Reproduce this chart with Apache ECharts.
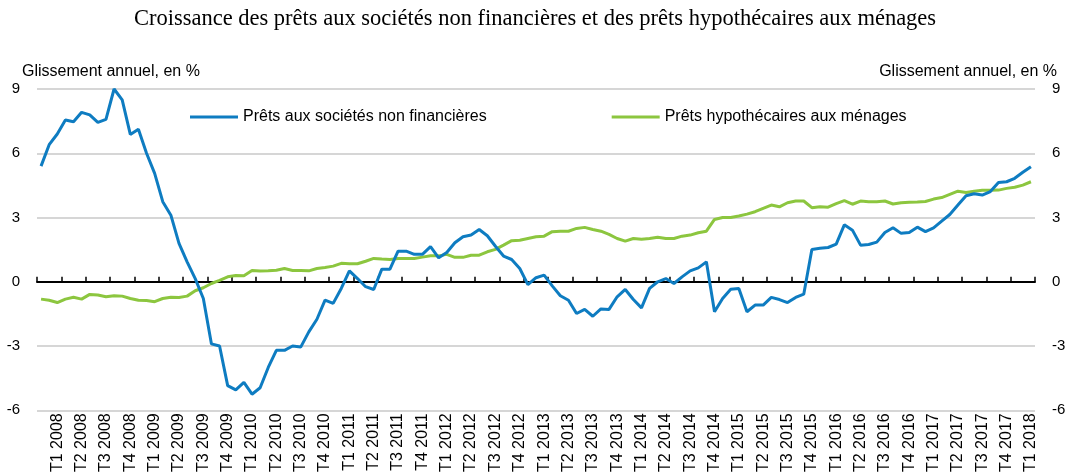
<!DOCTYPE html>
<html>
<head>
<meta charset="utf-8">
<script src="https://cdn.jsdelivr.net/npm/echarts@6/dist/echarts.min.js"></script>
<style>
html,body{margin:0;padding:0;background:#fff;}
#chart{width:1070px;height:475px;}
</style>
</head>
<body>
<div id="chart"></div>
<script>
var titleText = 'Croissance des prêts aux sociétés non financières et des prêts hypothécaires aux ménages';
var axisNameText = 'Glissement annuel, en %';
var seriesNames = ['Prêts aux sociétés non financières', 'Prêts hypothécaires aux ménages'];

var quarterLabels = [
  'T1 2008','T2 2008','T3 2008','T4 2008',
  'T1 2009','T2 2009','T3 2009','T4 2009',
  'T1 2010','T2 2010','T3 2010','T4 2010',
  'T1 2011','T2 2011','T3 2011','T4 2011',
  'T1 2012','T2 2012','T3 2012','T4 2012',
  'T1 2013','T2 2013','T3 2013','T4 2013',
  'T1 2014','T2 2014','T3 2014','T4 2014',
  'T1 2015','T2 2015','T3 2015','T4 2015',
  'T1 2016','T2 2016','T3 2016','T4 2016',
  'T1 2017','T2 2017','T3 2017','T4 2017',
  'T1 2018'
];

var yTicks = [-6, -3, 0, 3, 6, 9];

// Monthly values, Jan 2008 - Mar 2018
var nfcLoans = [
  5.40, 6.40, 6.90, 7.55, 7.47, 7.91, 7.79, 7.44, 7.58, 9.00, 8.49, 6.88,
  7.12, 6.00, 5.06, 3.74, 3.11, 1.79, 0.93, 0.15, -0.78, -2.90, -3.00, -4.85,
  -5.05, -4.70, -5.25, -4.95, -4.00, -3.20, -3.20, -3.00, -3.05, -2.34, -1.75, -0.86,
  -1.01, -0.31, 0.51, 0.15, -0.23, -0.36, 0.59, 0.59, 1.43, 1.43, 1.28, 1.28,
  1.64, 1.12, 1.37, 1.82, 2.10, 2.18, 2.44, 2.15, 1.66, 1.20, 1.04, 0.62,
  -0.13, 0.19, 0.31, -0.19, -0.65, -0.86, -1.48, -1.29, -1.61, -1.27, -1.29, -0.70,
  -0.36, -0.83, -1.22, -0.31, 0.00, 0.15, -0.08, 0.23, 0.51, 0.65, 0.93, -1.40,
  -0.78, -0.35, -0.31, -1.40, -1.09, -1.09, -0.73, -0.83, -0.97, -0.73, -0.58, 1.51,
  1.56, 1.60, 1.76, 2.66, 2.41, 1.71, 1.74, 1.85, 2.30, 2.52, 2.26, 2.30,
  2.55, 2.34, 2.52, 2.83, 3.14, 3.58, 4.02, 4.11, 4.05, 4.21, 4.63, 4.67,
  4.83, 5.11, 5.37
];

var mortgageLoans = [
  -0.81, -0.86, -0.97, -0.81, -0.72, -0.81, -0.59, -0.62, -0.70, -0.65, -0.67, -0.78,
  -0.86, -0.87, -0.93, -0.78, -0.72, -0.73, -0.67, -0.42, -0.28, -0.08, 0.07, 0.23,
  0.29, 0.28, 0.53, 0.50, 0.51, 0.54, 0.62, 0.53, 0.53, 0.51, 0.62, 0.67,
  0.73, 0.86, 0.84, 0.84, 0.96, 1.09, 1.06, 1.04, 1.09, 1.09, 1.09, 1.15,
  1.21, 1.21, 1.28, 1.14, 1.14, 1.24, 1.24, 1.40, 1.51, 1.71, 1.92, 1.94,
  2.02, 2.10, 2.13, 2.34, 2.36, 2.36, 2.49, 2.54, 2.44, 2.36, 2.21, 2.02,
  1.90, 2.02, 1.98, 2.02, 2.08, 2.02, 2.02, 2.13, 2.18, 2.29, 2.36, 2.91,
  3.00, 3.00, 3.07, 3.16, 3.27, 3.43, 3.58, 3.50, 3.69, 3.77, 3.77, 3.46,
  3.50, 3.48, 3.65, 3.79, 3.62, 3.77, 3.74, 3.74, 3.77, 3.63, 3.69, 3.71,
  3.72, 3.75, 3.86, 3.93, 4.08, 4.23, 4.17, 4.23, 4.27, 4.27, 4.28, 4.36,
  4.41, 4.51, 4.67
];

// monthly categories: three months per quarter label
var monthCats = [];
quarterLabels.forEach(function (q) {
  for (var m = 1; m <= 3; m++) monthCats.push(q + '#' + m);
});

var FONT = '"Liberation Sans", Arial, sans-serif';
var chart = echarts.init(document.getElementById('chart'), null, {renderer: 'canvas'});

var yBase = {
  type: 'value',
  min: yTicks[0],
  max: yTicks[yTicks.length - 1],
  interval: 3,
  axisLine: {show: false},
  axisTick: {show: false},
  axisLabel: {color: '#000', fontSize: 15, fontFamily: FONT, margin: 17}
};

chart.setOption({
  animation: false,
  backgroundColor: '#fff',
  textStyle: {fontFamily: FONT},
  title: [
    {text: titleText, left: 'center', top: 3,
     textStyle: {fontFamily: '"Liberation Serif", "Times New Roman", serif', fontSize: 22.5, fontWeight: 'normal', color: '#000'}},
    {text: axisNameText, left: 17, top: 59,
     textStyle: {fontFamily: FONT, fontSize: 16, fontWeight: 'normal', color: '#000'}},
    {text: axisNameText, right: 8, top: 59,
     textStyle: {fontFamily: FONT, fontSize: 16, fontWeight: 'normal', color: '#000'}}
  ],
  legend: {
    left: 185, top: 104,
    itemWidth: 48, itemHeight: 3, itemGap: 125,
    icon: 'rect',
    textStyle: {fontFamily: FONT, fontSize: 16, color: '#000'},
    data: seriesNames
  },
  grid: {left: 37, right: 35, top: 89, bottom: 64, containLabel: false},
  xAxis: [
    {
      type: 'category', data: monthCats, boundaryGap: true, position: 'bottom',
      axisLine: {show: true, onZero: true, onZeroAxisIndex: 0, lineStyle: {color: '#000', width: 2}},
      axisTick: {show: true, inside: true, length: 5, lineStyle: {color: '#000', width: 1.5},
                 interval: function (i) { return i % 3 === 0; }},
      axisLabel: {show: false},
      splitLine: {show: false}
    },
    {
      type: 'category', data: monthCats, boundaryGap: true, position: 'bottom',
      axisLine: {show: false, onZero: false},
      axisTick: {show: false},
      splitLine: {show: false},
      axisLabel: {
        show: true, rotate: 90, margin: 3, fontSize: 16, fontFamily: FONT, color: '#000',
        interval: function (i) { return i % 3 === 2; },
        formatter: function (v) { return String(v).split('#')[0]; }
      }
    }
  ],
  yAxis: [
    Object.assign({}, yBase, {position: 'left',
      splitLine: {show: true, lineStyle: {color: '#c8c8c8', width: 1.5}}}),
    Object.assign({}, yBase, {position: 'right', splitLine: {show: false}})
  ],
  series: [
    {
      name: seriesNames[0], type: 'line', xAxisIndex: 0, yAxisIndex: 0,
      data: nfcLoans, showSymbol: false, symbol: 'none',
      lineStyle: {color: '#0e7cc1', width: 3}, itemStyle: {color: '#0e7cc1'}, z: 3
    },
    {
      name: seriesNames[1], type: 'line', xAxisIndex: 0, yAxisIndex: 0,
      data: mortgageLoans, showSymbol: false, symbol: 'none',
      lineStyle: {color: '#8cc63f', width: 3}, itemStyle: {color: '#8cc63f'}, z: 2
    }
  ]
});
</script>
</body>
</html>
